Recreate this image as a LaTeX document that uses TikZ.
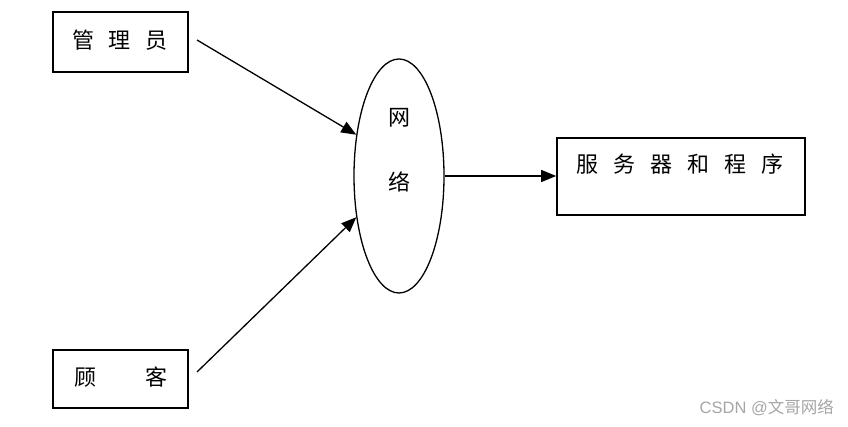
\documentclass[tikz,border=0pt]{standalone}
\usepackage{fontspec}
\newfontfamily\cjk{Noto Sans CJK SC}
\setmainfont{Liberation Sans}
\usetikzlibrary{arrows.meta,shapes.geometric}
\tikzset{
  boxnode/.style={draw, line width=1.6pt, minimum width=135pt, minimum height=60pt, inner sep=0pt},
  ell/.style={draw, ellipse, line width=1.3pt, minimum width=90pt, minimum height=234pt, inner sep=0pt},
  lbl/.style={font=\cjk\fontsize{22}{24}\selectfont, inner sep=0pt},
  conn/.style={line width=1.3pt, -{Triangle[length=15pt,width=12pt]}}
}
\begin{document}
\begin{tikzpicture}[x=1pt,y=1pt]
\useasboundingbox[fill=white] (0,0) rectangle (848,427);
% admin
\node[boxnode] (admin) at (120.5,385) {};
\node[lbl] (admint) at (120,387) {管\hspace{14.5pt}理\hspace{14.5pt}员};
% customer
\node[boxnode, minimum height=58pt] (cust) at (120.5,48) {};
\node[lbl] (custt) at (121,50) {顾\hspace{50pt}客};
% network
\node[ell] (net) at (399,251) {};
\node[lbl] (net1) at (399,309) {网};
\node[lbl] (net2) at (399,245) {络};
% server
\node[draw, line width=1.6pt, minimum width=248pt, minimum height=77pt, inner sep=0pt] (srv) at (681,250.5) {};
\node[lbl] (srvt) at (680,263) {服\hspace{15pt}务\hspace{15pt}器\hspace{15pt}和\hspace{15pt}程\hspace{15pt}序};
% connectors
\coordinate (a0) at (197,387);
\coordinate (c0) at (197,55);
\draw[conn] (a0) -- (net.136);
\draw[conn] (c0) -- (net.224);
\draw[conn] (net.east) -- (srv.west |- net.east);
% watermark
\node[text=gray!70, font=\fontsize{16.5}{18}\selectfont, anchor=east, inner sep=0pt] (wm) at (834,19) {CSDN @{\cjk 文哥网络}};
\end{tikzpicture}
\end{document}
